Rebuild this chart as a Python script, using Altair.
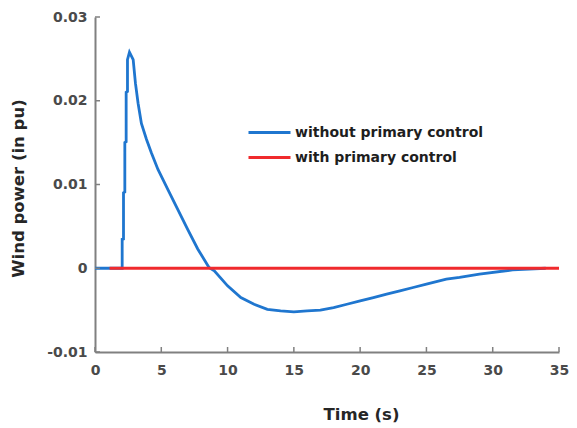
import altair as alt
import pandas as pd

# --- data ---
series_names = ["without primary control", "with primary control"]
series_colors = ["#1f76cf", "#f02a2d"]

t_without = [0, 2.05, 2.05, 2.15, 2.15, 2.25, 2.25, 2.35, 2.35, 2.45, 2.45, 2.6,
             2.88, 3.05, 3.25, 3.5, 3.88, 4.25, 4.75, 5.5, 6.25, 7.0, 7.75, 8.6,
             9.0, 10, 11, 12, 13, 14, 15, 16, 17, 18, 19, 20, 21, 22, 23, 24,
             25, 26.5, 27.5, 29, 31.5, 34]
p_without = [0, 0, 0.00345, 0.0035, 0.009, 0.0091, 0.015, 0.0151, 0.021, 0.0211,
             0.0249, 0.0258, 0.0249, 0.0221, 0.0197, 0.0173, 0.0154, 0.0138, 0.0118,
             0.0094, 0.0070, 0.0046, 0.0023, 0.0001, -0.0003, -0.0021, -0.0035,
             -0.0043, -0.0049, -0.0051, -0.0052, -0.0051, -0.0050, -0.0047, -0.0043,
             -0.0039, -0.0035, -0.0031, -0.0027, -0.0023, -0.0019, -0.0013, -0.0011,
             -0.0007, -0.0002, 0.0]

t_with = [1.1, 35]
p_with = [0, 0]

x_ticks = [0, 5, 10, 15, 20, 25, 30, 35]
y_ticks = [-0.01, 0, 0.01, 0.02, 0.03]

rows = []
for i, (t, p) in enumerate(zip(t_without, p_without)):
    rows.append({"series": series_names[0], "t": t, "p": p, "idx": i})
for i, (t, p) in enumerate(zip(t_with, p_with)):
    rows.append({"series": series_names[1], "t": t, "p": p, "idx": i})
df = pd.DataFrame(rows)

xt = pd.DataFrame({"t": x_ticks})
yt = pd.DataFrame({"p": y_ticks})

FONT = "DejaVu Sans"
W, H = 464, 335

xscale = alt.Scale(domain=[0, 35], nice=False, zero=False)
yscale = alt.Scale(domain=[-0.01, 0.03], nice=False, zero=False)

lines = alt.Chart(df).mark_line(strokeWidth=2.8).encode(
    x=alt.X("t:Q", scale=xscale,
            axis=alt.Axis(values=x_ticks, title="Time (s)", labelPadding=11,
                          labelFlush=False,
                          titleX=266, titleY=62, titleBaseline="middle",
                          titleAlign="center")),
    y=alt.Y("p:Q", scale=yscale,
            axis=alt.Axis(values=y_ticks, title="Wind power (in pu)", labelPadding=8,
                          labelFlush=False,
                          labelExpr="datum.value == 0 ? '0' : (datum.value < 0 ? '-' : '') + format(abs(datum.value), '.2f')",
                          titleX=-77, titleY=171, titleAngle=-90,
                          titleAlign="center", titleBaseline="middle")),
    color=alt.Color("series:N",
                    scale=alt.Scale(domain=series_names, range=series_colors),
                    legend=alt.Legend(title=None, orient="none", legendX=180, legendY=107,
                                      symbolType="M-5,0H1", symbolSize=196,
                                      symbolStrokeWidth=3, labelOffset=3,
                                      labelFont=FONT, labelFontWeight="bold",
                                      labelFontSize=14, labelColor="#1e1e1e",
                                      labelLimit=400, rowPadding=9, padding=0)),
    order="idx:Q",
)

xticks = alt.Chart(xt).mark_rule(color="#808080", strokeWidth=1.5).encode(
    x=alt.X("t:Q", scale=xscale), y=alt.value(H), y2=alt.value(H - 5))
yticks = alt.Chart(yt).mark_rule(color="#808080", strokeWidth=1.5).encode(
    y=alt.Y("p:Q", scale=yscale), x=alt.value(0), x2=alt.value(5))

chart = alt.layer(lines, xticks, yticks).properties(
    width=W, height=H,
    autosize=alt.AutoSizeParams(type="none"),
    padding={"left": 87, "top": 9, "right": 10, "bottom": 72},
).configure_view(stroke=None).configure_axis(
    grid=False, ticks=False, domainColor="#808080", domainWidth=2,
    labelFont=FONT, labelFontWeight="bold", labelFontSize=14, labelColor="#4a4a4a",
    titleFont=FONT, titleFontWeight="bold", titleFontSize=16.5, titleColor="#262626",
)

chart.save("out.html", embed_options={"renderer": "svg", "actions": False})
